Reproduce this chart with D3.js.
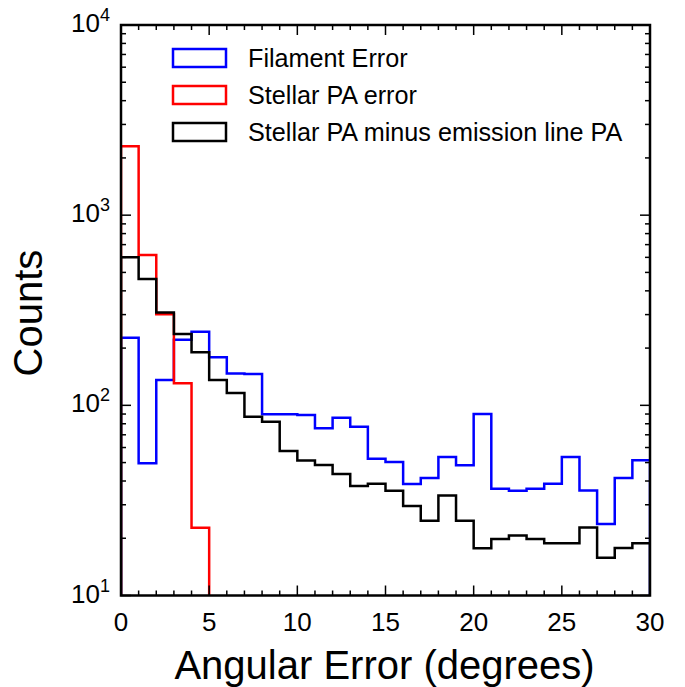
<!DOCTYPE html>
<html>
<head>
<meta charset="utf-8">
<script src="https://cdn.jsdelivr.net/npm/d3@7"></script>
<style>
  body { margin: 0; background: #fff; }
  text { font-family: "Liberation Sans", Arial, sans-serif; fill: #000; }
</style>
</head>
<body>
<div id="viz"></div>
<script>
// histogram counts, one value per 1-degree bin starting at 0
const filamentError = [227, 49.6, 136, 221, 244, 179, 147, 146, 89.7, 89.7, 89, 75.7, 86, 77.2, 52.4, 50.3,
  38.6, 41.5, 53.5, 48.4, 90, 36.4, 35.6, 36.4, 38.7, 53.5, 35.7, 23.8, 41.5, 51.4];
const stellarPAError = [2307, 617, 301, 130.6, 22.7];
const paDifference = [600, 461, 308, 237, 190, 136, 116, 87, 82, 57.5, 51.2, 48.6, 43.5, 37.6, 38.7, 35.6,
  29.6, 24.7, 33.6, 24.7, 17.7, 19.8, 20.7, 19.8, 18.8, 18.8, 22.8, 15.8, 17.8, 18.8];

const seriesNames = ["Filament Error", "Stellar PA error", "Stellar PA minus emission line PA"];
const seriesColors = ["#0000ff", "#ff0000", "#000000"];
const xTicks = [0, 5, 10, 15, 20, 25, 30];
const yDecades = [1, 2, 3, 4];

const width = 685, height = 687;
const margin = { top: 25, right: 35, bottom: 91.5, left: 121 };
const innerWidth = width - margin.left - margin.right;
const innerHeight = height - margin.top - margin.bottom;

const svg = d3.select("#viz").append("svg")
  .attr("width", width)
  .attr("height", height);

const chart = svg.append("g")
  .attr("transform", `translate(${margin.left},${margin.top})`);

const x = d3.scaleLinear().domain([0, 30]).range([0, innerWidth]);
const y = d3.scaleLog().domain([10, 10000]).range([innerHeight, 0]).clamp(true);

svg.append("defs").append("clipPath").attr("id", "plot-clip")
  .append("rect").attr("width", innerWidth).attr("height", innerHeight);

// step outline like histtype='step'
function stepPoints(values) {
  const pts = [[0, 10]];
  values.forEach((v, i) => {
    pts.push([i, v]);
    pts.push([i + 1, v]);
  });
  pts.push([values.length, 10]);
  return pts;
}

const line = d3.line()
  .x(d => x(d[0]))
  .y(d => y(d[1]));

const plot = chart.append("g").attr("clip-path", "url(#plot-clip)");
[filamentError, stellarPAError, paDifference].forEach((vals, i) => {
  plot.append("path")
    .datum(stepPoints(vals))
    .attr("fill", "none")
    .attr("stroke", seriesColors[i])
    .attr("stroke-width", 2.5)
    .attr("stroke-linejoin", "miter")
    .attr("d", line);
});

// ticks on all four sides, pointing inward
const xMinor = d3.range(0, 31).filter(v => v % 5 !== 0);
const yMinor = [];
[10, 100, 1000].forEach(dec => { for (let k = 2; k <= 9; k++) yMinor.push(dec * k); });

const axisG = chart.append("g").attr("stroke", "#000").attr("stroke-width", 1.5);
xTicks.forEach(v => {
  axisG.append("line").attr("x1", x(v)).attr("x2", x(v)).attr("y1", innerHeight).attr("y2", innerHeight - 10);
  axisG.append("line").attr("x1", x(v)).attr("x2", x(v)).attr("y1", 0).attr("y2", 10);
});
xMinor.forEach(v => {
  axisG.append("line").attr("x1", x(v)).attr("x2", x(v)).attr("y1", innerHeight).attr("y2", innerHeight - 5);
  axisG.append("line").attr("x1", x(v)).attr("x2", x(v)).attr("y1", 0).attr("y2", 5);
});
yDecades.forEach(p => {
  const yy = y(Math.pow(10, p));
  axisG.append("line").attr("x1", 0).attr("x2", 10).attr("y1", yy).attr("y2", yy);
  axisG.append("line").attr("x1", innerWidth).attr("x2", innerWidth - 10).attr("y1", yy).attr("y2", yy);
});
yMinor.forEach(v => {
  const yy = y(v);
  axisG.append("line").attr("x1", 0).attr("x2", 5).attr("y1", yy).attr("y2", yy);
  axisG.append("line").attr("x1", innerWidth).attr("x2", innerWidth - 5).attr("y1", yy).attr("y2", yy);
});

chart.append("rect")
  .attr("width", innerWidth)
  .attr("height", innerHeight)
  .attr("fill", "none")
  .attr("stroke", "#000")
  .attr("stroke-width", 2.5);

// tick labels
chart.append("g").selectAll("text")
  .data(xTicks)
  .join("text")
  .attr("x", d => x(d))
  .attr("y", innerHeight + 35)
  .attr("text-anchor", "middle")
  .attr("font-size", 26)
  .text(d => d);

const yLab = chart.append("g").selectAll("text")
  .data(yDecades)
  .join("text")
  .attr("x", -11)
  .attr("y", d => y(Math.pow(10, d)) + 7)
  .attr("text-anchor", "end")
  .attr("font-size", 26);
yLab.append("tspan").text("10");
yLab.append("tspan").attr("font-size", 18).attr("dy", -11).text(d => d);

// axis titles
svg.append("text")
  .attr("x", margin.left + innerWidth / 2 - 1)
  .attr("y", 679)
  .attr("text-anchor", "middle")
  .attr("font-size", 40)
  .text("Angular Error (degrees)");

svg.append("text")
  .attr("transform", `translate(42,${313}) rotate(-90)`)
  .attr("text-anchor", "middle")
  .attr("font-size", 40)
  .text("Counts");

// legend
const legend = svg.append("g").attr("transform", "translate(173,49)");
seriesNames.forEach((name, i) => {
  const row = legend.append("g").attr("transform", `translate(0,${i * 37})`);
  row.append("rect")
    .attr("width", 53)
    .attr("height", 18)
    .attr("fill", "none")
    .attr("stroke", seriesColors[i])
    .attr("stroke-width", 2.5);
  row.append("text")
    .attr("x", 75)
    .attr("y", 18)
    .attr("font-size", 25.2)
    .text(name);
});
</script>
</body>
</html>
